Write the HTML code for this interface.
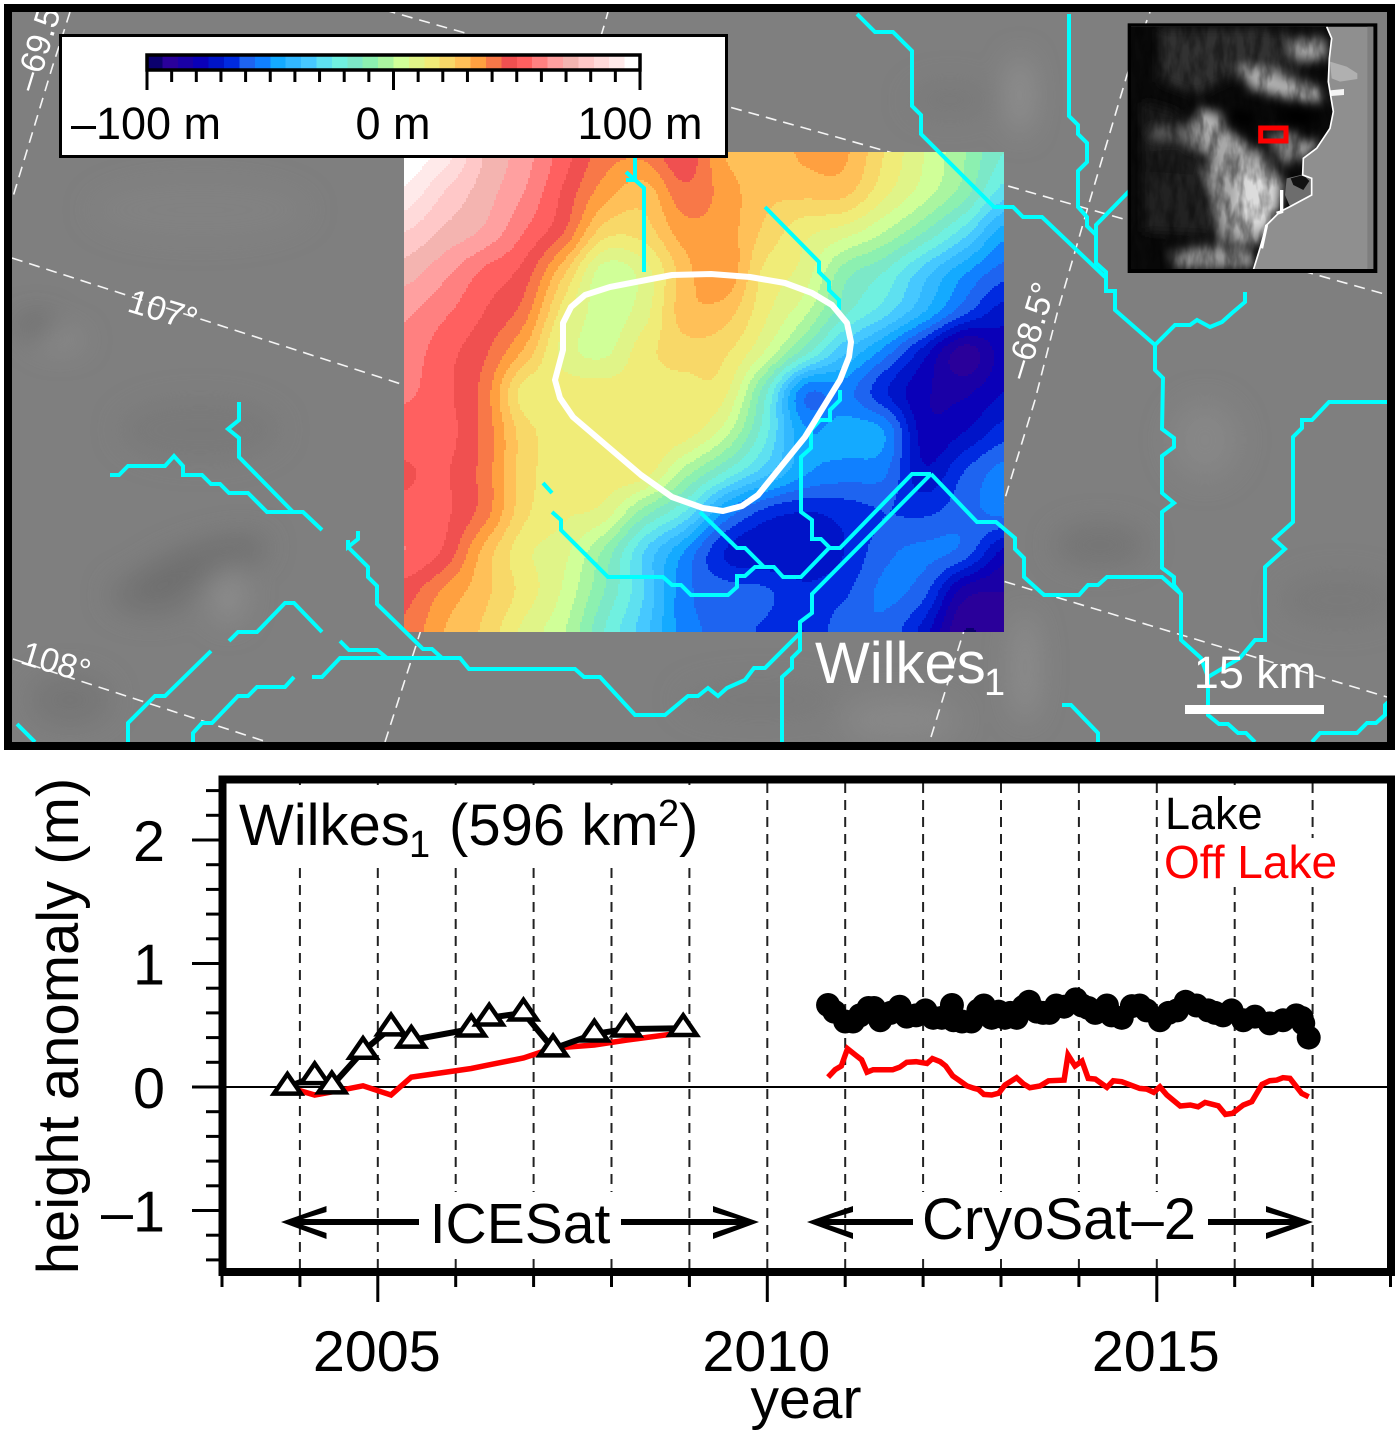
<!DOCTYPE html>
<html lang="en">
<head>
<meta charset="utf-8">
<title>Wilkes1 lake height anomaly</title>
<style>
html,body{margin:0;padding:0;background:#fff;width:1400px;height:1434px;overflow:hidden}
svg{position:absolute;left:0;top:0;display:block}
text{font-family:"Liberation Sans",sans-serif}
.cy{fill:none;stroke:#00ffff;stroke-width:4;stroke-linejoin:miter}
.gr{fill:none;stroke:#fff;stroke-width:1.6;stroke-dasharray:11 7;opacity:.92}
</style>
</head>
<body>
<svg id="fig" xmlns="http://www.w3.org/2000/svg" width="1400" height="1434" viewBox="0 0 1400 1434">
<defs>
<clipPath id="mapClip"><rect x="12" y="12" width="1379" height="730"/></clipPath>
<clipPath id="insetClip"><rect x="33" y="35" width="727" height="727"/></clipPath>
<clipPath id="landClip"><polygon points="33,35 620,35 635,70 628,130 625,200 640,290 630,340 590,400 550,430 548,480 575,490 575,540 510,575 480,590 440,630 420,700 400,762 33,762"/></clipPath>
<filter id="blurA" x="-50%" y="-50%" width="200%" height="200%"><feGaussianBlur stdDeviation="14"/></filter>
<filter id="blurB" x="-50%" y="-50%" width="200%" height="200%"><feGaussianBlur stdDeviation="16"/></filter>
<filter id="streaks" x="0" y="0" width="100%" height="100%">
  <feTurbulence type="fractalNoise" baseFrequency="0.035 0.012" numOctaves="3" seed="7"/>
  <feColorMatrix type="matrix" values="0 0 0 0 0  0 0 0 0 0  0 0 0 0 0  2.6 0 0 0 -0.95"/>
</filter>
</defs>

<g clip-path="url(#mapClip)">
  <rect x="12" y="12" width="1379" height="730" fill="#7f7f7f"/>
  <g filter="url(#blurA)">
    <ellipse cx="36" cy="326" rx="20" ry="10" fill="#5c5c5c" opacity=".7"/>
    <ellipse cx="60" cy="340" rx="25" ry="10" fill="#999" opacity=".5"/>
    <ellipse cx="200" cy="565" rx="70" ry="20" fill="#6c6c6c" transform="rotate(-18 200 565)" opacity=".8"/>
    <ellipse cx="150" cy="595" rx="40" ry="20" fill="#6e6e6e" opacity=".7"/>
    <ellipse cx="228" cy="595" rx="18" ry="30" fill="#8e8e8e" opacity=".8"/>
    <ellipse cx="70" cy="700" rx="40" ry="25" fill="#727272" opacity=".7"/>
    <ellipse cx="200" cy="430" rx="80" ry="30" fill="#777" opacity=".6"/>
    <ellipse cx="1020" cy="95" rx="10" ry="40" fill="#9a9a9a" opacity=".8"/>
    <ellipse cx="950" cy="100" rx="40" ry="18" fill="#767676" opacity=".6"/>
    <ellipse cx="1025" cy="667" rx="12" ry="55" fill="#969696" opacity=".7"/>
    <ellipse cx="1100" cy="545" rx="45" ry="20" fill="#6f6f6f" opacity=".7"/>
    <ellipse cx="1205" cy="440" rx="35" ry="40" fill="#8c8c8c" opacity=".6"/>
    <ellipse cx="1340" cy="600" rx="60" ry="25" fill="#777" opacity=".6"/>
    <ellipse cx="900" cy="720" rx="60" ry="25" fill="#8e8e8e" opacity=".6"/>
    <ellipse cx="200" cy="210" rx="110" ry="30" fill="#8a8a8a" opacity=".35"/>
    <ellipse cx="760" cy="700" rx="80" ry="20" fill="#777" opacity=".5"/>
  </g>

  <g>
    <polyline class="gr" points="12,258 404,385 1006,582 1387,697"/>
    <polyline class="gr" points="13,659 267,742"/>
    <polyline class="gr" points="350,0 444,27 840,138 1127,220 1310,273 1395,297"/>
    <polyline class="gr" points="70,12 63,34 52,68 12,200"/>
    <polyline class="gr" points="385,742 420,633 604,26 608,12"/>
    <polyline class="gr" points="931,737 1006,495 1035,400 1058,310 1090,200 1127,75 1150,12"/>
  </g>

  <g id="heatmap" shape-rendering="crispEdges"></g>

  <g>
    <polyline class="cy" points="239,402 239,420 228,429 239,438 239,457 293,512"/>
    <polyline class="cy" points="110,475 119,475 128,466 165,466 174,456 183,466 183,475 202,475 211,484 220,484 229,493 248,493 267,512 303,512 322,530"/>
    <polyline class="cy" points="358,531 358,539 348,547 348,540"/>
    <polyline class="cy" points="348,547 368,567 368,577 377,586 377,604 423,649 432,649 442,658"/>
    <polyline class="cy" points="312,677 322,677 340,658 460,658 469,669 575,669 584,677 600,677 635,715 665,715 688,696 698,696 708,688 718,696 727,688 745,680 754,668 765,668 800,633 800,622 812,613 812,594 931,474"/>
    <polyline class="cy" points="782,742 782,677 792,668 792,658 800,650 800,622"/>
    <polyline class="cy" points="931,474 912,474 840,548 830,548 821,539 812,539 812,520 801,512 801,457 811,448 811,430 820,420 830,420 830,410 840,400 840,390"/>
    <polyline class="cy" points="829,548 801,577 783,577 774,567 755,567 745,576 737,576 737,587 728,595 691,595 681,585 672,585 663,577 608,577 561,530 561,520 552,512"/>
    <polyline class="cy" points="700,512 737,548 745,548 764,567"/>
    <polyline class="cy" points="543,483 552,493"/>
    <polyline class="cy" points="635,157 635,180 644,188 644,272"/>
    <polyline class="cy" points="626,172 635,180 626,180"/>
    <polyline class="cy" points="765,207 819,262 819,272 829,282 829,290 839,300 839,310"/>
    <polyline class="cy" points="857,14 875,32 893,32 912,51 912,106 921,115 921,134 994,207 1013,207 1023,217 1042,217 1105,277"/>
    <polyline class="cy" points="1069,14 1069,116 1078,125 1078,134 1087,143 1087,162 1078,171 1078,207 1087,217 1087,226 1096,235 1096,263 1106,272 1106,291 1115,291 1115,310 1155,345"/>
    <polyline class="cy" points="1096,235 1096,225 1140,180"/>
    <polyline class="cy" points="1245,292 1245,302 1232,313 1222,322 1210,327 1197,320 1190,325 1175,325 1155,345 1155,370 1163,378 1162,429 1174,438 1174,447 1162,456 1162,493 1174,503 1162,512 1162,568 1174,577 1174,585 1181,594"/>
    <polyline class="cy" points="931,474 977,522 996,522 1015,538 1015,549 1024,558 1024,577 1044,595 1079,595 1088,585 1098,585 1107,577 1162,577 1181,594 1181,640 1201,658 1208,677 1208,715 1219,724 1228,724 1238,733 1246,733 1255,742"/>
    <polyline class="cy" points="1395,402 1329,402 1312,420 1302,420 1302,428 1293,437 1293,522 1274,539 1285,549 1265,567 1265,640 1255,640 1240,658 1208,677"/>
    <polyline class="cy" points="1062,705 1071,705 1098,733 1098,742"/>
    <polyline class="cy" points="1312,742 1320,733 1357,733 1367,723 1376,723 1385,715 1385,705 1395,696"/>
    <polyline class="cy" points="229,641 238,632 257,632 285,603 294,603 322,632"/>
    <polyline class="cy" points="211,651 165,696 155,696 128,723 128,742"/>
    <polyline class="cy" points="193,742 193,733 202,723 212,723 238,696 248,696 257,687 285,687 294,677"/>
    <polyline class="cy" points="340,641 349,650 377,650 387,658"/>
    <polyline class="cy" points="17,724 35,742"/>
  </g>

  <polygon fill="none" stroke="#fff" stroke-width="6" stroke-linejoin="round" points="571,307 563,323 563,350 555,380 560,398 573,417 641,475 672,497 703,508 723,511 742,506 758,495 805,437 840,380 849,357 851,342 847,323 832,305 812,293 785,283 750,277 711,274 672,275 641,281 610,287 585,295"/>

  <text x="126" y="311" font-size="34" fill="#fff" transform="rotate(17 126 311)">107°</text>
  <text x="19" y="663" font-size="34" fill="#fff" transform="rotate(17 19 663)">108°</text>
  <text x="36" y="93" font-size="34" fill="#fff" transform="rotate(-73 36 93)">–69.5°</text>
  <text x="1027" y="381" font-size="34" fill="#fff" transform="rotate(-73 1027 381)">–68.5°</text>

  <text x="815" y="683" font-size="58" fill="#fff">Wilkes</text>
  <text x="984" y="695" font-size="38" fill="#fff">1</text>
  <text x="1255" y="688" font-size="45" fill="#fff" text-anchor="middle">15 km</text>
  <rect x="1185" y="705" width="139" height="9" fill="#fff"/>

  <g transform="translate(1120,15) scale(.33333)">
    <rect x="23" y="25" width="749" height="749" fill="#000"/>
    <g clip-path="url(#insetClip)">
      <rect x="33" y="35" width="727" height="727" fill="#8f8f8f"/>
      <rect x="742" y="35" width="20" height="727" fill="#7e7e7e"/>
      <polygon points="630,140 680,155 712,175 712,192 660,200 635,190" fill="#b0b0b0"/>
      <polygon points="610,228 672,222 672,240 610,245" fill="#f4f4f4"/>
      <g clip-path="url(#landClip)">
        <rect x="33" y="35" width="727" height="727" fill="#0a0a0a"/>
        <g filter="url(#blurB)">
          <polygon points="120,40 400,40 620,60 620,130 500,170 330,190 230,240 120,200" fill="#333"/>
          <polygon points="70,260 170,290 240,420 300,600 280,660 70,650" fill="#242424"/>
          <polygon points="190,350 260,290 330,350 430,420 490,500 470,600 420,690 300,680 290,560 250,450" fill="#a8a8a8"/>
          <polygon points="360,450 460,480 480,560 425,650 350,620" fill="#dcdcdc"/>
          <polygon points="360,150 450,170 600,215 610,260 520,255 390,220" fill="#b0b0b0"/>
          <polygon points="510,85 615,85 615,130 530,125" fill="#aaa"/>
          <polygon points="150,710 300,690 400,710 400,760 170,760" fill="#9a9a9a"/>
          <polygon points="510,390 600,370 570,415 520,440" fill="#b0b0b0"/>
          <polygon points="440,350 530,350 540,430 480,450" fill="#808080"/>
          <polygon points="90,410 240,390 290,440 230,480 90,470" fill="#1c1c1c"/>
          <polygon points="240,280 310,300 300,340 200,350" fill="#b4b4b4"/>
          <polygon points="90,345 240,340 250,370 100,365" fill="#6c6c6c"/>
        </g>
        <g filter="url(#blurB)" opacity=".95">
          <polygon points="325,275 415,300 400,335 345,330" fill="#000"/>
          <polygon points="465,295 520,275 620,300 560,335 500,325" fill="#000"/>
        </g>
        <rect x="33" y="35" width="620" height="727" filter="url(#streaks)" opacity=".4"/>
        <polygon points="500,490 550,478 578,495 575,540 510,575 495,540" fill="#6d6d6d"/>
        <polygon points="512,490 550,480 568,498 550,525 520,510" fill="#111"/>
      </g>
      <polyline fill="none" stroke="#fff" stroke-width="5" points="620,35 635,70 628,130 625,200 640,290 630,340 590,400 550,430 548,480 575,490 575,540 510,575 480,590 440,630 420,700 400,765"/>
      <polyline fill="none" stroke="#fff" stroke-width="10" points="485,525 485,590 470,595"/>
      <polyline fill="none" stroke="#fff" stroke-width="9" points="440,630 425,700"/>
    </g>
    <rect x="422" y="339" width="76" height="39" fill="none" stroke="#ff0000" stroke-width="15"/>
  </g>
</g>
<rect x="8" y="8" width="1383" height="738" fill="none" stroke="#000" stroke-width="8"/>

<g>
  <rect x="60.5" y="35.5" width="666" height="121" fill="#fff" stroke="#000" stroke-width="3"/>
  <g id="colorbar" shape-rendering="crispEdges"></g>
  <rect x="147" y="55" width="493" height="15" fill="none" stroke="#000" stroke-width="3.5"/>
  <g id="colorbarTicks"></g>
  <text x="146" y="139" font-size="45" text-anchor="middle">–100 m</text>
  <text x="393" y="139" font-size="45" text-anchor="middle">0 m</text>
  <text x="640" y="139" font-size="45" text-anchor="middle">100 m</text>
</g>

<g>
  <g id="gridLines"></g>
  <rect x="230" y="785" width="470" height="83" fill="#fff"/>
  <rect x="1165" y="785" width="100" height="53" fill="#fff"/>
  <rect x="1165" y="838" width="176" height="49" fill="#fff"/>
  <rect x="420" y="1192" width="199" height="60" fill="#fff"/>
  <rect x="913" y="1192" width="295" height="67" fill="#fff"/>
  <line x1="226" y1="1087" x2="1388" y2="1087" stroke="#000" stroke-width="2"/>
  <g id="series"></g>
  <rect x="222.5" y="779.5" width="1168.5" height="492.5" fill="none" stroke="#000" stroke-width="8"/>
  <g id="axes"></g>

  <text x="239" y="845" font-size="58">Wilkes</text>
  <text x="409" y="857" font-size="38">1</text>
  <text x="449" y="845" font-size="58">(596 km</text>
  <text x="658" y="826" font-size="38">2</text>
  <text x="679" y="845" font-size="58">)</text>

  <text x="1165" y="829" font-size="45">Lake</text>
  <text x="1164" y="878" font-size="46" fill="#ff0000">Off Lake</text>

  <text x="520" y="1243" font-size="57" text-anchor="middle">ICESat</text>
  <text x="1059" y="1239" font-size="58" text-anchor="middle">CryoSat–2</text>

  <path d="M281,1222 L326.5,1206 L326.5,1212 L303,1219 L419,1219 L419,1225 L303,1225 L326.5,1233 L326.5,1239 Z"/>
  <path d="M759,1222 L713,1206 L713,1212 L737,1219 L621,1219 L621,1225 L737,1225 L713,1233 L713,1239 Z"/>
  <path d="M807,1222 L853,1206 L853,1212 L829,1219 L913,1219 L913,1225 L829,1225 L853,1233 L853,1239 Z"/>
  <path d="M1313,1222 L1266,1206 L1266,1212 L1290,1219 L1208,1219 L1208,1225 L1290,1225 L1266,1233 L1266,1239 Z"/>

  <text x="78" y="1026" font-size="58" text-anchor="middle" transform="rotate(-90 78 1026)">height anomaly (m)</text>
  <text x="806" y="1418" font-size="57" text-anchor="middle">year</text>
</g>

<script>
// Contour step used by the map and its colour scale (m per band).
const bandStep = 6.25;
const bandColors = ['#0b006e','#2a009a','#1a00a6','#0a00b8','#0014c8','#002ae0','#1e64f0','#1080ff','#14aaff','#32b8ff','#46c8ff','#5ee0f0','#70f0e0','#7ce8c8','#8cf0b0','#aaf5a0','#d0ff98','#e0f488','#f0ec78','#f8d868','#ffc058','#ffa040','#f87848','#f05050','#ff6060','#ff8080','#ffa0a0','#f4b4b0','#ffc8c8','#ffdada','#ffeaea','#ffffff'];

// Elevation, in contour steps (multiply by bandStep for metres).
const heatLevels = [
  [15.8,14.6,12,10.5,8.5,6.5,6.3,7.8,5,4.3,5.2,5.2,3,1,-0.9,-3],
  [14.8,13,11.5,10,7.8,5.5,4.5,6.7,5.6,4.3,4.3,4.3,2.3,0.5,-1.5,-4.5],
  [13,11.8,10.8,9,7,3.5,3.5,5.5,5.5,3.8,2.3,1.5,0,-2,-4.5,-7.5],
  [11.5,10.3,8.8,7.6,4.2,0.5,1.5,4.5,5.8,2.8,1.6,-1.5,-3,-5.5,-7.8,-9.5],
  [10.2,9.2,8,6.5,2.5,0.5,1.6,4.5,4.5,2.3,0.3,-2.7,-4.6,-7,-9.7,-11.5],
  [9.6,8.4,7.2,4.8,1.6,0.8,2.6,3.5,3.2,1,-2.5,-5.8,-8.4,-11.5,-14.5,-12.5],
  [9.2,8.3,6.6,2.6,2.6,2.5,2.5,2.6,2.3,-2.5,-8.7,-8.6,-10.8,-12.8,-13.2,-12],
  [8.5,8.4,6.7,3.5,2.5,2.5,2.5,2.5,0.5,-3.5,-7.8,-7.5,-8,-12.5,-12,-10.5],
  [7.9,8.1,6.6,3.5,2.5,2.5,2.5,-0.4,-3,-5.5,-7.8,-8.5,-8.8,-11.8,-10,-8.6],
  [8.3,8.2,6.5,3.3,2.2,1.6,-1.5,-4,-8,-10.3,-11,-10.6,-10,-10.2,-9.4,-8.7],
  [9,7.8,4.7,2.3,1.3,-1.2,-5,-8,-11,-11.8,-11.7,-11,-9.3,-8.8,-9.4,-12.3],
  [7.5,5.8,4.3,2.6,0.8,-2,-5,-8.6,-9.5,-9.8,-10.8,-10.2,-8.8,-9.7,-13.5,-14],
  [6.8,5,3.8,1.7,0.1,-3,-5.6,-8.5,-9.3,-10.2,-11,-9.3,-9.3,-11.5,-15,-14]
];

// Time series (decimal year, height anomaly in m).
const icesatYears = [2003.84,2004.19,2004.41,2004.81,2005.17,2005.43,2006.2,2006.43,2006.87,2007.25,2007.78,2008.19,2008.92];
const icesatLake = [0,0.085,0.01,0.29,0.48,0.38,0.47,0.56,0.6,0.31,0.43,0.47,0.475];
const icesatOff = [0,-0.065,-0.04,0.01,-0.065,0.08,0.15,0.18,0.235,0.315,0.34,0.38,0.44];
const cryoLakeYears = [2010.78,2010.86,2011,2011.1,2011.19,2011.3,2011.37,2011.45,2011.58,2011.7,2011.79,2011.91,2012.03,2012.13,2012.24,2012.37,2012.39,2012.5,2012.62,2012.71,2012.78,2012.88,2012.97,2013.05,2013.12,2013.2,2013.29,2013.36,2013.46,2013.54,2013.62,2013.71,2013.81,2013.96,2014.04,2014.12,2014.21,2014.36,2014.42,2014.55,2014.68,2014.78,2014.87,2015.04,2015.15,2015.26,2015.37,2015.51,2015.66,2015.75,2015.85,2015.96,2016.11,2016.26,2016.45,2016.62,2016.79,2016.86,2016.88,2016.95];
const cryoLakeValues = [0.664,0.61,0.53,0.53,0.58,0.64,0.64,0.54,0.6,0.65,0.57,0.58,0.62,0.56,0.56,0.664,0.54,0.53,0.53,0.62,0.66,0.56,0.61,0.56,0.6,0.56,0.65,0.69,0.61,0.6,0.6,0.66,0.65,0.71,0.66,0.64,0.6,0.66,0.58,0.56,0.655,0.66,0.62,0.54,0.6,0.62,0.69,0.66,0.62,0.6,0.58,0.62,0.54,0.57,0.515,0.54,0.58,0.56,0.515,0.4];
const cryoOffYears = [2010.78,2010.87,2010.95,2011.03,2011.13,2011.21,2011.28,2011.36,2011.61,2011.7,2011.79,2011.91,2012.05,2012.12,2012.22,2012.29,2012.38,2012.47,2012.56,2012.65,2012.71,2012.78,2012.88,2012.97,2013.05,2013.2,2013.29,2013.37,2013.5,2013.61,2013.81,2013.86,2013.95,2014.04,2014.12,2014.21,2014.36,2014.44,2014.55,2014.78,2014.87,2014.96,2015.04,2015.13,2015.3,2015.43,2015.53,2015.62,2015.79,2015.88,2015.97,2016.11,2016.22,2016.35,2016.45,2016.54,2016.62,2016.71,2016.86,2016.95];
const cryoOffValues = [0.08,0.14,0.17,0.31,0.26,0.22,0.12,0.14,0.14,0.16,0.2,0.205,0.19,0.23,0.205,0.17,0.09,0.05,0.01,-0.01,-0.02,-0.06,-0.065,-0.05,0.015,0.075,0.024,-0.006,0.008,0.05,0.056,0.26,0.17,0.21,0.07,0.064,-0.003,0.05,0.043,-0.011,-0.017,-0.044,0.002,-0.065,-0.154,-0.146,-0.16,-0.125,-0.152,-0.222,-0.214,-0.146,-0.119,0.021,0.051,0.056,0.075,0.07,-0.052,-0.079];

// Axis tick values and labels.
const xTickYears = [2003,2004,2005,2006,2007,2008,2009,2010,2011,2012,2013,2014,2015,2016,2017,2018];
const xLabelYears = [2005,2010,2015];
const yMajorTicks = [-1,0,1,2];
const yMinorTicks = [-1.4,-1.2,-0.8,-0.6,-0.4,-0.2,0.2,0.4,0.6,0.8,1.2,1.4,1.6,1.8,2.2,2.4];
const yLabelText = ['–1','0','1','2'];
const colorbarMinorMetres = [-90,-80,-70,-60,-50,-40,-30,-20,-10,10,20,30,40,50,60,70,80,90];
const colorbarMajorMetres = [-100,0,100];

const NS = 'http://www.w3.org/2000/svg';
function make(tag, parent, attrs) {
  const el = document.createElementNS(NS, tag);
  for (const k in attrs) el.setAttribute(k, attrs[k]);
  parent.appendChild(el);
  return el;
}
function xS(year) { return 222 + (year - 2003) * 77.9; }
function yS(v) { return 1087 - v * 123.5; }
function cbS(m) { return 147 + (m + 100) * 2.465; }

// Heatmap: smooth surface through the grid, quantised to the colour bands.
const mapLeft = 404, mapTop = 152, mapWidth = 600, mapHeight = 480, cellPx = 2;
function cr(a, b, c, d, t) {
  return 0.5 * (2 * b + (c - a) * t + (2 * a - 5 * b + 4 * c - d) * t * t + (3 * b - a - 3 * c + d) * t * t * t);
}
function level(u, v) {
  const rows = heatLevels.length, cols = heatLevels[0].length;
  const gx = u * (cols - 1), gy = v * (rows - 1);
  const ix = Math.min(Math.floor(gx), cols - 2), iy = Math.min(Math.floor(gy), rows - 2);
  const tx = gx - ix, ty = gy - iy;
  const vals = [];
  for (let j = -1; j <= 2; j++) {
    const r = heatLevels[Math.max(0, Math.min(rows - 1, iy + j))];
    const p = i => r[Math.max(0, Math.min(cols - 1, ix + i))];
    vals.push(cr(p(-1), p(0), p(1), p(2), tx));
  }
  return cr(vals[0], vals[1], vals[2], vals[3], ty);
}
function bandIndex(m) {
  return Math.max(0, Math.min(bandColors.length - 1, Math.floor(m / bandStep) + 16));
}
const heatG = document.getElementById('heatmap');
for (let py = 0; py < mapHeight; py += cellPx) {
  let runStart = 0, runBand = -1;
  for (let px = 0; px <= mapWidth; px += cellPx) {
    const b = px < mapWidth ? bandIndex(level((px + cellPx / 2) / mapWidth, (py + cellPx / 2) / mapHeight) * bandStep) : -2;
    if (b !== runBand) {
      if (runBand >= 0) {
        const el = make('rect', heatG, {x: mapLeft + runStart, y: mapTop + py, width: px - runStart, height: cellPx, fill: bandColors[runBand]});
        
        
      }
      runStart = px; runBand = b;
    }
  }
}

// Colour bar
const cbG = document.getElementById('colorbar');
bandColors.forEach(function (c, i) {
  const m0 = -100 + i * bandStep;
  const el = make('rect', cbG, {x: cbS(m0), y: 56, width: cbS(m0 + bandStep) - cbS(m0) + 0.5, height: 13, fill: c});
  
  
});
const cbT = document.getElementById('colorbarTicks');
colorbarMinorMetres.forEach(function (m) {
  const el = make('line', cbT, {x1: cbS(m), x2: cbS(m), y1: 71, y2: 82, stroke: '#000', 'stroke-width': 3});
  
  
});
colorbarMajorMetres.forEach(function (m) {
  const el = make('line', cbT, {x1: cbS(m), x2: cbS(m), y1: 71, y2: 90, stroke: '#000', 'stroke-width': 3});
  
  
});

// Gridlines
const gridG = document.getElementById('gridLines');
xTickYears.slice(1, -1).forEach(function (yr) {
  const el = make('line', gridG, {x1: xS(yr), x2: xS(yr), y1: 783, y2: 1272, stroke: '#222', 'stroke-width': 2, 'stroke-dasharray': '10 7'});
  
  
});

// Axes
const axG = document.getElementById('axes');
xTickYears.forEach(function (yr) {
  const major = xLabelYears.indexOf(yr) >= 0;
  const el = make('line', axG, {x1: xS(yr), x2: xS(yr), y1: 1276, y2: major ? 1302 : 1287, stroke: '#000', 'stroke-width': 3});
  
  
});
xLabelYears.forEach(function (yr) {
  const el = make('text', axG, {x: xS(yr) - 1, y: 1371, 'font-size': 57.5, 'text-anchor': 'middle'});
  el.textContent = String(yr);
  
  
});
yMajorTicks.forEach(function (v, i) {
  const t = make('line', axG, {x1: 192, x2: 219, y1: yS(v), y2: yS(v), stroke: '#000', 'stroke-width': 3});
  
  
  const el = make('text', axG, {x: 165, y: yS(v) + 21, 'font-size': 57.5, 'text-anchor': 'end'});
  el.textContent = yLabelText[i];
  
  
});
yMinorTicks.forEach(function (v) {
  const el = make('line', axG, {x1: 206, x2: 219, y1: yS(v), y2: yS(v), stroke: '#000', 'stroke-width': 3});
  
  
});

// Series
const sG = document.getElementById('series');
function linePoints(xs, ys) {
  return xs.map(function (x, i) { return xS(x).toFixed(1) + ',' + yS(ys[i]).toFixed(1); }).join(' ');
}
const offIce = make('polyline', sG, {points: linePoints(icesatYears, icesatOff), fill: 'none', stroke: '#ff0000', 'stroke-width': 5.5, 'stroke-linejoin': 'miter'});


const lakeIce = make('polyline', sG, {points: linePoints(icesatYears, icesatLake), fill: 'none', stroke: '#000', 'stroke-width': 6, 'stroke-linejoin': 'miter'});


icesatYears.forEach(function (yr, i) {
  const cx = xS(yr), cy = yS(icesatLake[i]);
  const d = 'M' + cx + ',' + (cy - 13) + ' L' + (cx + 13.5) + ',' + (cy + 6.6) + ' L' + (cx - 13.5) + ',' + (cy + 6.6) + ' Z';
  const el = make('path', sG, {d: d, fill: '#fff', stroke: '#000', 'stroke-width': 4.5, 'stroke-linejoin': 'miter'});
  
  
});
const lakeCryo = make('polyline', sG, {points: linePoints(cryoLakeYears, cryoLakeValues), fill: 'none', stroke: '#000', 'stroke-width': 6});


cryoLakeYears.forEach(function (yr, i) {
  const el = make('circle', sG, {cx: xS(yr), cy: yS(cryoLakeValues[i]), r: 12, fill: '#000'});
  
  
});
const offCryo = make('polyline', sG, {points: linePoints(cryoOffYears, cryoOffValues), fill: 'none', stroke: '#ff0000', 'stroke-width': 5.5, 'stroke-linejoin': 'miter'});


</script>
</svg>
</body>
</html>
